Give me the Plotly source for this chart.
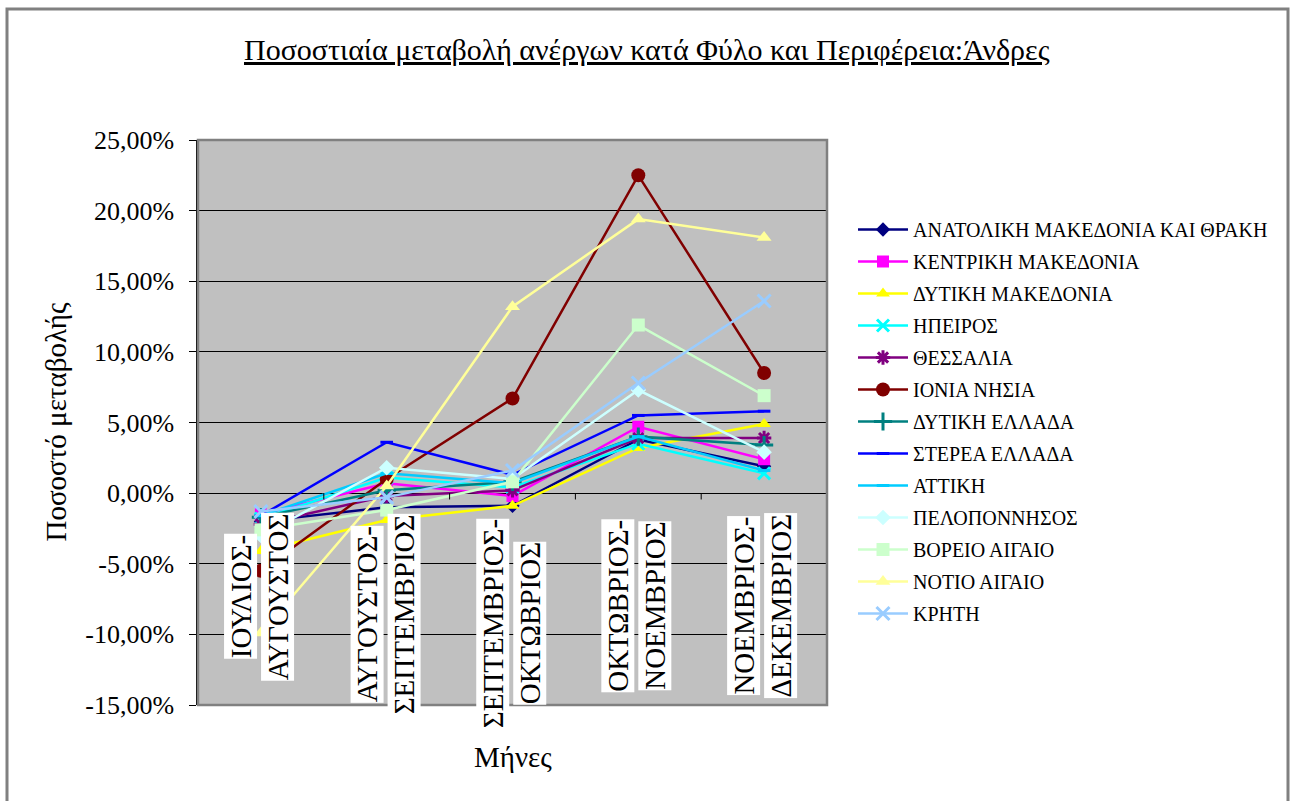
import plotly.graph_objects as go

# ---------------- data ----------------
cat_line1 = ["ΙΟΥΛΙΟΣ-", "ΑΥΓΟΥΣΤΟΣ-", "ΣΕΠΤΕΜΒΡΙΟΣ-", "ΟΚΤΩΒΡΙΟΣ-", "ΝΟΕΜΒΡΙΟΣ-"]
cat_line2 = ["ΑΥΓΟΥΣΤΟΣ", "ΣΕΠΤΕΜΒΡΙΟΣ", "ΟΚΤΩΒΡΙΟΣ", "ΝΟΕΜΒΡΙΟΣ", "ΔΕΚΕΜΒΡΙΟΣ"]

names = [
    "ΑΝΑΤΟΛΙΚΗ ΜΑΚΕΔΟΝΙΑ ΚΑΙ ΘΡΑΚΗ", "ΚΕΝΤΡΙΚΗ ΜΑΚΕΔΟΝΙΑ", "ΔΥΤΙΚΗ ΜΑΚΕΔΟΝΙΑ",
    "ΗΠΕΙΡΟΣ", "ΘΕΣΣΑΛΙΑ", "ΙΟΝΙΑ ΝΗΣΙΑ", "ΔΥΤΙΚΗ ΕΛΛΑΔΑ", "ΣΤΕΡΕΑ ΕΛΛΑΔΑ",
    "ΑΤΤΙΚΗ", "ΠΕΛΟΠΟΝΝΗΣΟΣ", "ΒΟΡΕΙΟ ΑΙΓΑΙΟ", "ΝΟΤΙΟ ΑΙΓΑΙΟ", "ΚΡΗΤΗ",
]

anatoliki_makedonia = [-2.0, -1.0, -0.9, 3.8, 1.9]
kentriki_makedonia = [-1.5, 0.7, -0.2, 4.7, 2.4]
dytiki_makedonia = [-4.1, -1.9, -0.9, 3.2, 4.9]
ipeiros = [-1.8, 1.1, 0.4, 3.5, 1.4]
thessalia = [-2.2, -0.2, 0.2, 3.9, 3.9]
ionia_nisia = [-5.5, 1.0, 6.7, 22.5, 8.5]
dytiki_ellada = [-1.7, 0.2, 0.8, 4.0, 3.4]
sterea_ellada = [-1.6, 3.6, 1.3, 5.5, 5.8]
attiki = [-1.6, 1.4, 0.7, 4.0, 1.6]
peloponnisos = [-3.0, 1.8, 1.0, 7.3, 2.9]
voreio_aigaio = [-2.6, -1.2, 0.8, 11.9, 6.9]
notio_aigaio = [-9.9, 0.5, 13.2, 19.4, 18.1]
kriti = [-1.3, -0.3, 1.6, 7.8, 13.6]

series_values = [
    anatoliki_makedonia, kentriki_makedonia, dytiki_makedonia, ipeiros, thessalia,
    ionia_nisia, dytiki_ellada, sterea_ellada, attiki, peloponnisos,
    voreio_aigaio, notio_aigaio, kriti,
]

y_tick_values = [-15, -10, -5, 0, 5, 10, 15, 20, 25]
y_tick_labels = [f"{v:.2f}".replace(".", ",") + "%" for v in y_tick_values]

# ---------------- styles ----------------
colors = ["#000080", "#FF00FF", "#FFFF00", "#00FFFF", "#800080", "#800000",
          "#008080", "#0000FF", "#00CCFF", "#CCFFFF", "#CCFFCC", "#FFFF99", "#99CCFF"]
symbols = ["diamond", "square", "triangle-up", "x-thin-open", "asterisk-open", "circle",
           "cross-thin-open", "line-ew-open", "line-ew-open", "diamond", "square",
           "triangle-up", "x-thin-open"]
sizes = [11, 12, 12, 12, 12, 14, 13, 9, 9, 12, 13, 13, 13]

FONT = "Liberation Serif"
W, H = 1292, 801
L, R, T, B = 198, 827, 140, 705  # plot area in pixels
LABEL_SIZE = 29

x_idx = list(range(len(cat_line1)))

fig = go.Figure()
for i, (nm, vals) in enumerate(zip(names, series_values)):
    sym = symbols[i]
    open_sym = sym.endswith("-open")
    fig.add_trace(go.Scatter(
        x=x_idx, y=vals, name=nm, mode="lines+markers",
        legendgroup=nm,
        line=dict(color=colors[i], width=2.5),
        marker=dict(symbol=sym, size=sizes[i], color=colors[i],
                    line=dict(color=colors[i], width=3 if open_sym else 0)),
    ))

def px_to_paper_x(px):
    return (px - L) / (R - L)

def px_to_paper_y(py):
    return (B - py) / (B - T)

shapes = []
# outer chart border
shapes.append(dict(type="rect", xref="paper", yref="paper",
                   x0=px_to_paper_x(7), x1=px_to_paper_x(1288),
                   y0=px_to_paper_y(812), y1=px_to_paper_y(9),
                   line=dict(color="#808080", width=3), layer="below"))
# plot area border
shapes.append(dict(type="rect", xref="paper", yref="paper", x0=0, x1=1, y0=0, y1=1,
                   line=dict(color="#808080", width=2.5), layer="above"))
# tick marks on the category axis (crossing at 0)
for k in range(1, len(cat_line1)):
    shapes.append(dict(type="line", xref="x", yref="y", x0=k - 0.5, x1=k - 0.5,
                       y0=0, y1=-0.45, line=dict(color="black", width=1), layer="above"))

annotations = []
# category labels, rotated, white background; longest line top-aligned just below 0
for i in x_idx:
    longest = max(len(cat_line1[i]), len(cat_line2[i]))
    center_off = 21 + longest * 0.63 * LABEL_SIZE / 2
    for j, txt in enumerate((cat_line1[i], cat_line2[i])):
        annotations.append(dict(
            x=i, y=0, xref="x", yref="y", text=txt, showarrow=False,
            textangle=-90, bgcolor="white", borderpad=0,
            xshift=(-20 if j == 0 else 17), yshift=-center_off,
            font=dict(family=FONT, size=LABEL_SIZE, color="black"),
            xanchor="center", yanchor="middle"))

# axis titles and chart title
annotations.append(dict(x=0.5, y=px_to_paper_y(757), xref="paper", yref="paper",
                        text="Μήνες", showarrow=False, xanchor="center", yanchor="middle",
                        font=dict(family=FONT, size=29, color="black")))
annotations.append(dict(x=px_to_paper_x(55), y=0.5, xref="paper", yref="paper",
                        text="Ποσοστό μεταβολής", showarrow=False, textangle=-90,
                        xanchor="center", yanchor="middle",
                        font=dict(family=FONT, size=29, color="black")))
annotations.append(dict(x=px_to_paper_x(647), y=px_to_paper_y(50), xref="paper", yref="paper",
                        text="<u>Ποσοστιαία μεταβολή ανέργων κατά Φύλο και Περιφέρεια:Άνδρες</u>",
                        showarrow=False, xanchor="center", yanchor="middle",
                        font=dict(family=FONT, size=30, color="black")))

fig.update_layout(
    width=W, height=H,
    margin=dict(l=L, r=W - R, t=T, b=H - B, pad=0),
    paper_bgcolor="white", plot_bgcolor="#C0C0C0",
    font=dict(family=FONT, color="black"),
    showlegend=True,
    legend=dict(x=px_to_paper_x(853), y=px_to_paper_y(210), xanchor="left", yanchor="top",
                font=dict(family=FONT, size=20, color="black"),
                tracegroupgap=3, itemwidth=50, bgcolor="rgba(0,0,0,0)"),
    xaxis=dict(range=[-0.5, len(cat_line1) - 0.5], showticklabels=False, showgrid=False,
               zeroline=False, showline=False, ticks=""),
    yaxis=dict(range=[-15, 25], tickvals=y_tick_values, ticktext=y_tick_labels,
               showgrid=True, gridcolor="black", gridwidth=1,
               zeroline=True, zerolinecolor="black", zerolinewidth=1,
               showline=True, linecolor="black", linewidth=1.5,
               ticks="outside", ticklen=7, tickcolor="black", ticklabelstandoff=10,
               tickfont=dict(family=FONT, size=26, color="black")),
    shapes=shapes, annotations=annotations,
)

fig.write_html("out.html", config={"displayModeBar": False},
               post_script="document.body.style.margin='0';")
